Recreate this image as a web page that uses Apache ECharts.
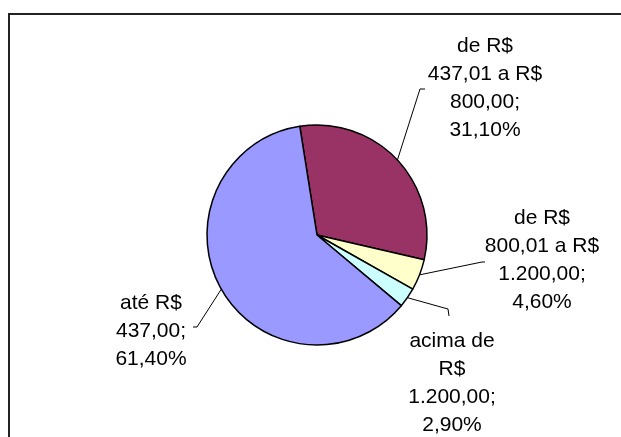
<!DOCTYPE html>
<html>
<head>
<meta charset="utf-8">
<script src="https://cdn.jsdelivr.net/npm/echarts@6/dist/echarts.min.js"></script>
<style>
  html, body { margin: 0; padding: 0; background: #fff; }
  #wrap { position: relative; width: 621px; height: 437px; overflow: hidden; }
  #frame {
    position: absolute; left: 8px; top: 13px; width: 700px; height: 500px;
    border-left: 2px solid #222; border-top: 2px solid #222;
  }
  #chart { position: absolute; left: 0; top: 0; width: 621px; height: 437px; }
</style>
</head>
<body>
<div id="wrap">
  <div id="frame"></div>
  <div id="chart"></div>
</div>
<script>
const categories = [
  "de R$\n437,01 a R$\n800,00",
  "de R$\n800,01 a R$\n1.200,00",
  "acima de\nR$\n1.200,00",
  "até R$\n437,00",
];
const shares = [31.1, 4.6, 2.9, 61.4];
const sliceColors = ["#993366", "#FFFFCC", "#CCFFFF", "#9999FF"];

const PIE_CENTER = [317, 235];
const PIE_RADIUS = 110;
const START_ANGLE = 99;

// centre of each text block, plus the bend/end of its leader line (relative to that centre)
const labelSpots = [
  { x: 485, y: 88, bend: [-65, 1], end: [-60, 1] },
  { x: 542, y: 260, bend: [-60, 2], end: [-57, 2] },
  { x: 452, y: 383, bend: [-4, -74], end: [-3, -67] },
  { x: 151, y: 331, bend: [46, -4], end: [42, -4] },
];

const formatPct = (v) => v.toFixed(2).replace(".", ",") + "%";

const total = shares.reduce((a, b) => a + b, 0);
const arcPoint = (index) => {
  const before = shares.slice(0, index).reduce((a, b) => a + b, 0);
  const mid = START_ANGLE - ((before + shares[index] / 2) / total) * 360;
  const rad = (mid * Math.PI) / 180;
  return [PIE_CENTER[0] + PIE_RADIUS * Math.cos(rad), PIE_CENTER[1] - PIE_RADIUS * Math.sin(rad)];
};

const chart = echarts.init(document.getElementById("chart"), null, { renderer: "canvas" });

chart.setOption({
  animation: false,
  backgroundColor: "transparent",
  series: [
    {
      type: "pie",
      center: PIE_CENTER,
      radius: [0, PIE_RADIUS],
      startAngle: START_ANGLE,
      clockwise: true,
      data: categories.map((name, i) => ({
        name,
        value: shares[i],
        itemStyle: { color: sliceColors[i] },
      })),
      itemStyle: { borderColor: "#000", borderWidth: 1.5 },
      emphasis: { disabled: true },
      label: {
        show: true,
        position: "outside",
        formatter: (p) => p.name + ";\n" + formatPct(p.value),
        fontFamily: "Liberation Sans, Arial, sans-serif",
        fontSize: 21,
        lineHeight: 28,
        color: "#000",
        align: "center",
      },
      labelLine: {
        show: true,
        length: 10,
        length2: 10,
        lineStyle: { color: "#000", width: 1 },
      },
      labelLayout: (params) => {
        const i = params.dataIndex;
        const spot = labelSpots[i];
        const start = arcPoint(i);
        return {
          x: spot.x,
          y: spot.y,
          align: "center",
          verticalAlign: "middle",
          labelLinePoints: [
            start,
            [spot.x + spot.bend[0], spot.y + spot.bend[1]],
            [spot.x + spot.end[0], spot.y + spot.end[1]],
          ],
        };
      },
    },
  ],
});
</script>
</body>
</html>
